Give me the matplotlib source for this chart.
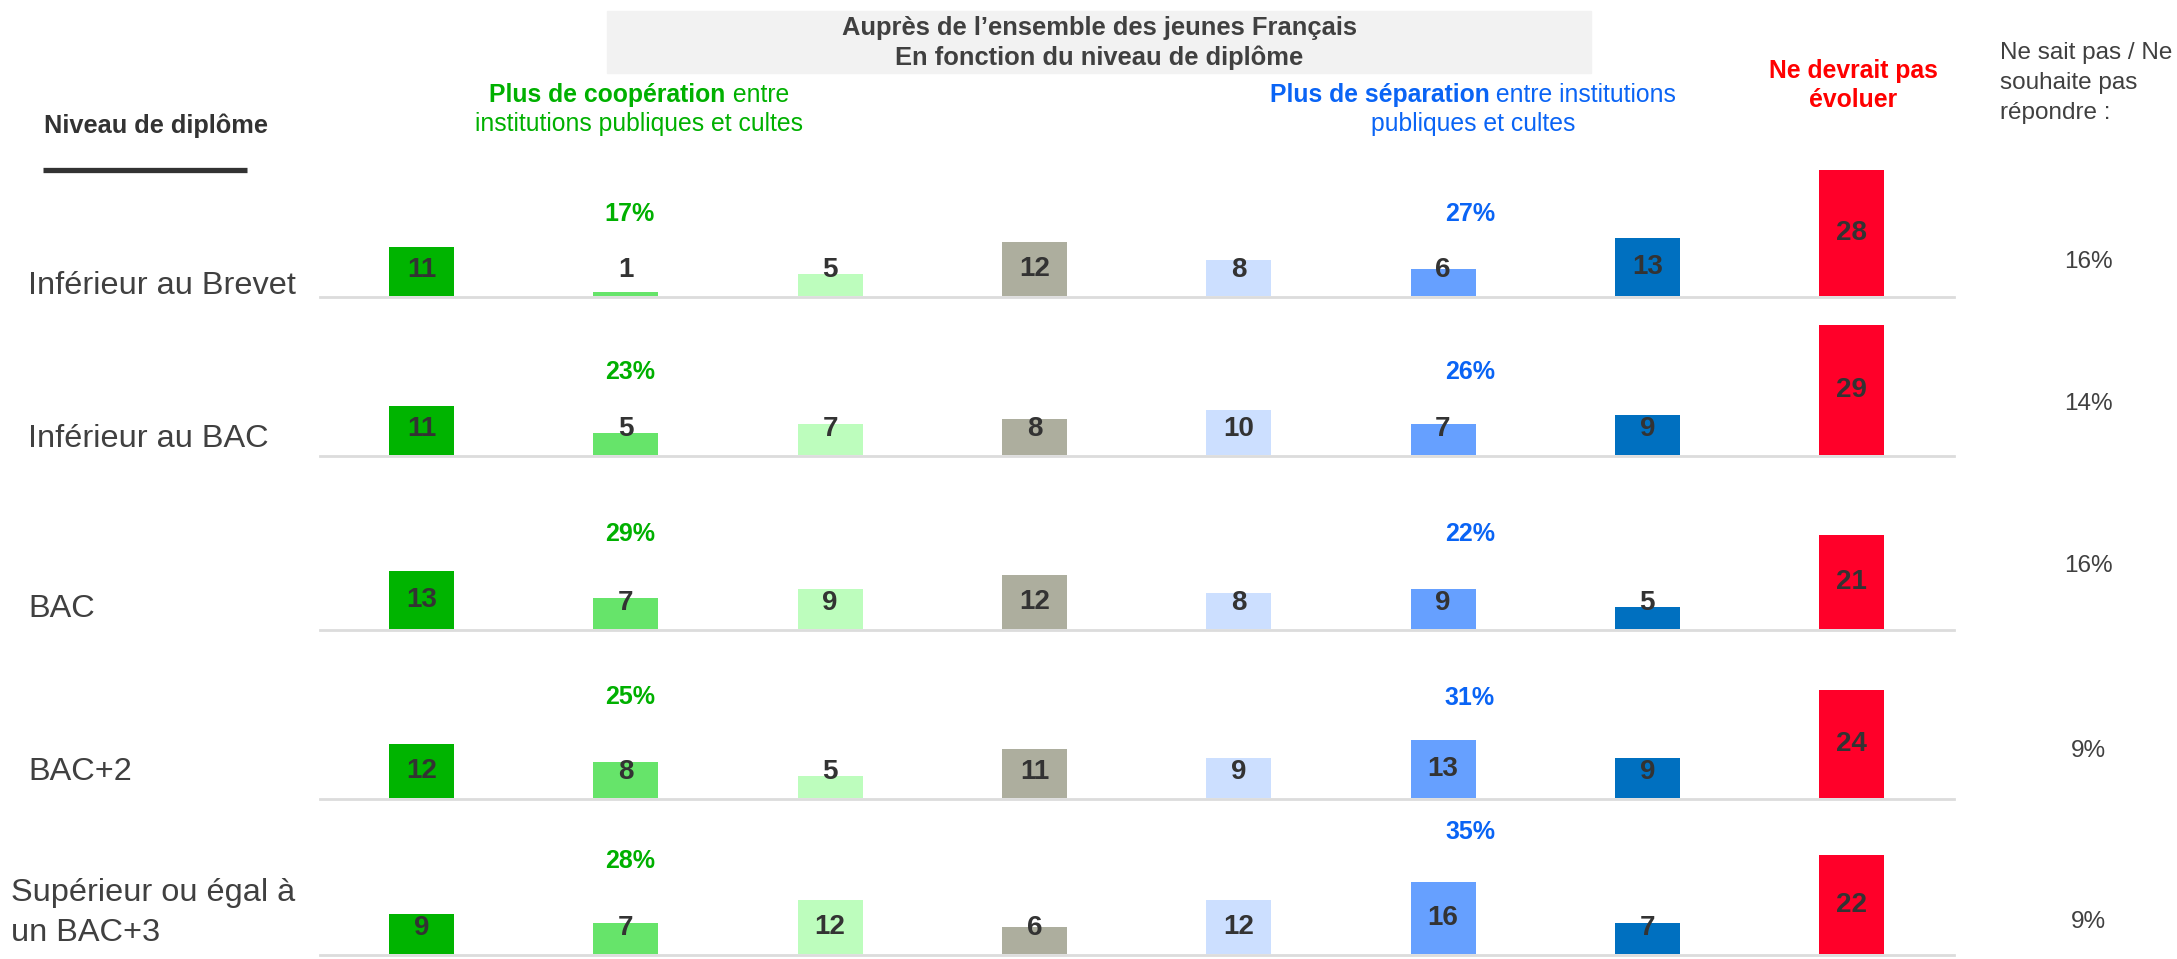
import numpy as np
import matplotlib.pyplot as plt

# data
levels = ["Inférieur au Brevet", "Inférieur au BAC", "BAC", "BAC+2",
          "Supérieur ou égal à\nun BAC+3"]
coop_1 = [11, 11, 13, 12, 9]
coop_2 = [1, 5, 7, 8, 7]
coop_3 = [5, 7, 9, 5, 12]
neutral = [12, 8, 12, 11, 6]
sep_1 = [8, 10, 8, 9, 12]
sep_2 = [6, 7, 9, 13, 16]
sep_3 = [13, 9, 5, 9, 7]
no_change = [28, 29, 21, 24, 22]
coop_total = [17, 23, 29, 25, 28]
sep_total = [27, 26, 22, 31, 35]
dont_know = [16, 14, 16, 9, 9]

colors = ['#00B400', '#66E46A', '#BDFDBD', '#ADAE9E',
          '#CCDFFF', '#66A0FF', '#0070C0', '#FF0029']
GREEN = '#00B000'
BLUE = '#0A64F5'
RED = '#FF0000'
DARK = '#404040'

# layout, in pixels from the top-left corner
W, H = 2177, 959
baselines = [296, 455, 629, 798, 954]
label_y = [286, 439, 609, 772, None]
pct_lift = [[82, 82], [83, 83], [95, 95], [101, 100], [93, 122]]
dk_y = [262, 404, 566, 751, 922]
X0, DX, BW = 421.5, 204.3, 65
S = 4.5  # px per point of percentage

plt.rcParams['font.family'] = ['Liberation Sans', 'DejaVu Sans']
fig = plt.figure(figsize=(W / 100, H / 100), dpi=100, facecolor='white')
ax = fig.add_axes([0, 0, 1, 1])
ax.set_xlim(0, W)
ax.set_ylim(H, 0)
ax.axis('off')

series = [coop_1, coop_2, coop_3, neutral, sep_1, sep_2, sep_3, no_change]
xs = X0 + DX * np.arange(len(series))

for r, base in enumerate(baselines):
    vals = np.array([s[r] for s in series])
    ax.plot([320, 1954], [base + 1, base + 1], color='#DCDCDC', lw=2, zorder=1)
    ax.bar(xs, -vals * S, bottom=base, width=BW, color=colors, zorder=2)
    for x, v in zip(xs, vals):
        ax.text(x, base - max(v / 2, 5.7) * S, str(v), ha='center', va='center',
                fontsize=20, fontweight='bold', color='#333333', zorder=3)
    ax.text(630, base - pct_lift[r][0], f"{coop_total[r]}%", ha='center', va='center',
            fontsize=18, fontweight='bold', color=GREEN)
    ax.text(1470, base - pct_lift[r][1], f"{sep_total[r]}%", ha='center', va='center',
            fontsize=18, fontweight='bold', color=BLUE)
    ax.text(2088, dk_y[r], f"{dont_know[r]}%", ha='center', va='center',
            fontsize=17.5, color=DARK)

# row labels
for r, lab in enumerate(levels):
    if label_y[r] is None:
        ax.text(11, 913, lab, ha='left', va='center', fontsize=23.4, color=DARK,
                linespacing=1.4)
    else:
        ax.text(28, label_y[r], lab, ha='left', va='center', fontsize=23.4, color=DARK)

# header box
ax.add_patch(plt.Rectangle((607, 11), 984, 62, color='#F2F2F2', zorder=0))
ax.text(1099, 28, "Auprès de l’ensemble des jeunes Français", ha='center', va='center',
        fontsize=18.4, fontweight='bold', color=DARK)
ax.text(1099, 58, "En fonction du niveau de diplôme", ha='center', va='center',
        fontsize=18.4, fontweight='bold', color=DARK)

ax.text(44, 126, "Niveau de diplôme", ha='left', va='center',
        fontsize=18.3, fontweight='bold', color='#333333')
ax.plot([43, 247], [170, 170], color='#333333', lw=3.8, solid_capstyle='butt')

renderer = fig.canvas.get_renderer()


def mixed_line(cx, y, bold, normal, color):
    t1 = ax.text(0, y, bold, ha='left', va='center', fontsize=17.8,
                 fontweight='bold', color=color)
    t2 = ax.text(0, y, normal, ha='left', va='center', fontsize=17.8, color=color)
    w1 = t1.get_window_extent(renderer).width
    w2 = t2.get_window_extent(renderer).width
    start = cx - (w1 + w2) / 2
    t1.set_x(start)
    t2.set_x(start + w1)


mixed_line(639, 95, "Plus de coopération", " entre", GREEN)
ax.text(639, 124, "institutions publiques et cultes", ha='center', va='center',
        fontsize=17.8, color=GREEN)
mixed_line(1473, 95, "Plus de séparation", " entre institutions", BLUE)
ax.text(1473, 124, "publiques et cultes", ha='center', va='center',
        fontsize=17.8, color=BLUE)

ax.text(1853, 71, "Ne devrait pas", ha='center', va='center', fontsize=17.8,
        fontweight='bold', color=RED)
ax.text(1853, 100, "évoluer", ha='center', va='center', fontsize=17.8,
        fontweight='bold', color=RED)

for i, line in enumerate(["Ne sait pas / Ne", "souhaite pas", "répondre :"]):
    ax.text(2000, 53 + 30 * i, line, ha='left', va='center', fontsize=17.5, color=DARK)

fig.savefig('out.png', dpi=100)
